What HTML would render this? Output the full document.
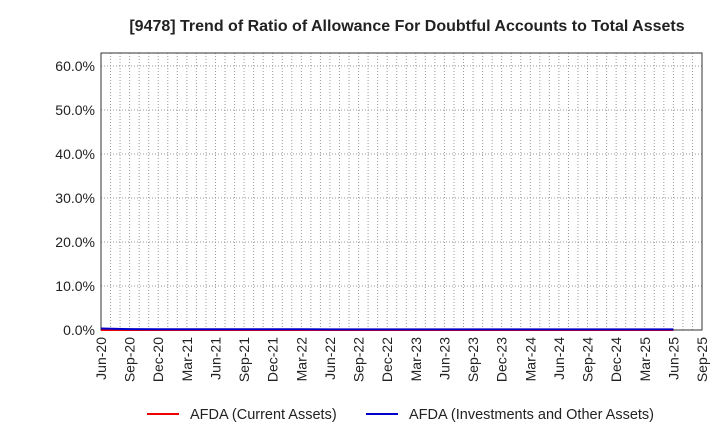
<!DOCTYPE html>
<html><head><meta charset="utf-8"><style>
body{margin:0;background:#fff;font-family:"Liberation Sans",sans-serif}
</style></head><body>
<svg id="c" width="720" height="440" xmlns="http://www.w3.org/2000/svg" font-family="Liberation Sans, sans-serif">
<text x="407" y="31" text-anchor="middle" font-size="16" font-weight="bold" fill="#222">[9478]  Trend of Ratio of Allowance For Doubtful Accounts to Total Assets</text>
<g id="grid"></g><g id="axes"></g><g id="series"></g>
<g>
<line x1="147" y1="414" x2="179" y2="414" stroke="#e00" stroke-width="2"/>
<text x="190" y="419" font-size="14.5" fill="#222">AFDA (Current Assets)</text>
<line x1="366" y1="414" x2="398" y2="414" stroke="#00c" stroke-width="2"/>
<text x="409" y="419" font-size="14.5" fill="#222">AFDA (Investments and Other Assets)</text>
</g>
</svg>
<script>
const xLabels=["Jun-20","Sep-20","Dec-20","Mar-21","Jun-21","Sep-21","Dec-21","Mar-22","Jun-22","Sep-22","Dec-22","Mar-23","Jun-23","Sep-23","Dec-23","Mar-24","Jun-24","Sep-24","Dec-24","Mar-25","Jun-25","Sep-25"];
const yTicks=[0,10,20,30,40,50,60];
const currentVals=[0,0,0,0,0,0,0,0,0,0,0,0,0,0,0,0,0,0,0,0,0];
const investVals=[0.35,0.2,0.18,0.17,0.17,0.16,0.16,0.16,0.15,0.15,0.15,0.15,0.15,0.15,0.15,0.15,0.15,0.15,0.15,0.15,0.15];
const L=101,R=702,T=53,B=330,months=63;
const xs=m=>L+(R-L)*m/months;
const ys=v=>B-v*4.4;
const NS="http://www.w3.org/2000/svg";
function mk(p,t,a){const e=document.createElementNS(NS,t);for(const k in a)e.setAttribute(k,a[k]);p.appendChild(e);return e;}
const grid=document.getElementById('grid'),axes=document.getElementById('axes'),ser=document.getElementById('series');
for(let m=1;m<months;m++){const g=mk(grid,'line',{x1:xs(m),x2:xs(m),y1:T,y2:B,stroke:'#999','stroke-dasharray':'1,2','stroke-width':1});

}
yTicks.forEach(v=>{if(v>0){const g=mk(grid,'line',{x1:L,x2:R,y1:ys(v),y2:ys(v),stroke:'#999','stroke-dasharray':'1,2'});

}
const t=mk(axes,'text',{x:L-6,y:ys(v)+5,'text-anchor':'end','font-size':14,fill:'#222'});t.textContent=v.toFixed(1)+'%';

});
const fr=mk(axes,'rect',{x:L,y:T,width:R-L,height:B-T,fill:'none',stroke:'#333'});


xLabels.forEach((s,i)=>{const x=xs(i*3);const t=mk(axes,'text',{transform:`translate(${x+5},337) rotate(-90)`,'text-anchor':'end','font-size':14,fill:'#222'});t.textContent=s;

});
function line(vals,col,name){const p=mk(ser,'polyline',{points:vals.map((v,i)=>xs(i*3)+','+ys(v)).join(' '),fill:'none',stroke:col,'stroke-width':2});

}
line(currentVals,'#e00','series-current-assets');
line(investVals,'#00c','series-investments');
</script>
</body></html>
